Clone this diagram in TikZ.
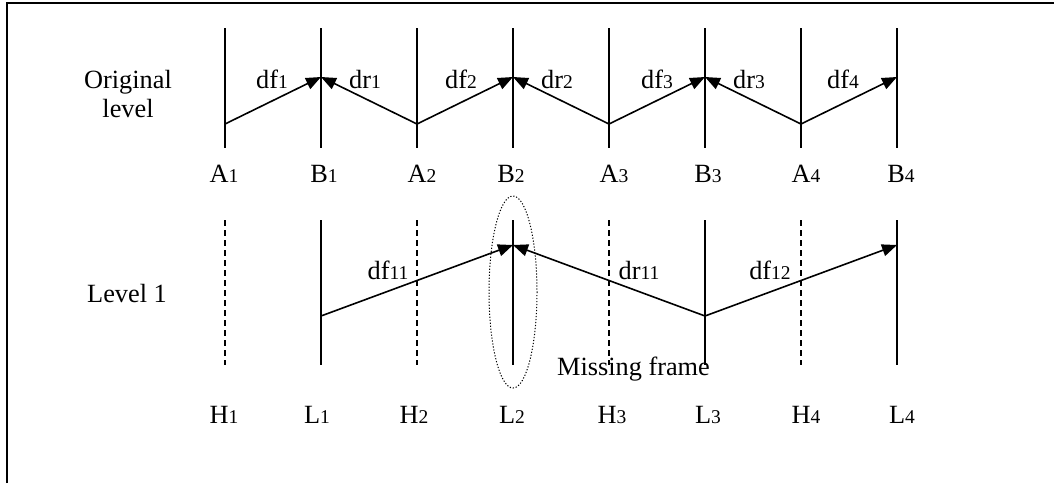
\documentclass[tikz,border=0pt]{standalone}
\usepackage{fontspec}
\setmainfont{Liberation Serif}
\usetikzlibrary{arrows.meta}
\tikzset{
  vline/.style={line width=1.6pt},
  hline/.style={line width=1.6pt, dash pattern=on 6pt off 4pt},
  arr/.style={line width=1.6pt, -{Triangle[length=15pt,width=12pt]}},
  lab/.style={font=\fontsize{26.3}{30}\selectfont, inner sep=0pt, anchor=base},
  frameline/.style={line width=2pt},
  missing/.style={line width=1pt, dash pattern=on 1.2pt off 1.8pt},
}
\newcommand{\dg}[1]{{\fontsize{19.5}{22}\selectfont #1}}
\begin{document}
\begin{tikzpicture}[x=1pt,y=-1pt]
\useasboundingbox (0,0) rectangle (1054,483);
% frame
\coordinate (fbl) at (7,483);
\coordinate (ftl) at (7,3);
\coordinate (ftr) at (1054,3);
\draw[frameline] (fbl) -- (ftl) -- (ftr);

% left labels
\node[lab] (orig1) at (128,88) {Original};
\node[lab] (orig2) at (128,117) {level};
\node[lab] (lev1) at (127,302) {Level 1};

% original level lines
\foreach \n/\x in {A1/225,B1/321,A2/417,B2/513,A3/609,B3/705,A4/801,B4/897} {
  \coordinate (\n top) at (\x,28);
  \coordinate (\n bot) at (\x,148);
  \draw[vline] (\n top) -- (\n bot);
}
\foreach \n/\x in {A1/225,A2/417,A3/609,A4/801} {
  \coordinate (\n v) at (\x,124);
}
\foreach \n/\x in {B1/321,B2/513,B3/705,B4/897} {
  \coordinate (\n t) at (\x,77);
}
\draw[arr] (A1v) -- (B1t);
\draw[arr] (A2v) -- (B1t);
\draw[arr] (A2v) -- (B2t);
\draw[arr] (A3v) -- (B2t);
\draw[arr] (A3v) -- (B3t);
\draw[arr] (A4v) -- (B3t);
\draw[arr] (A4v) -- (B4t);

\node[lab] (df1) at (272,88) {df\dg{1}};
\node[lab] (dr1) at (365,88) {dr\dg{1}};
\node[lab] (df2) at (461,88) {df\dg{2}};
\node[lab] (dr2) at (557,88) {dr\dg{2}};
\node[lab] (df3) at (657,88) {df\dg{3}};
\node[lab] (dr3) at (749,88) {dr\dg{3}};
\node[lab] (df4) at (843,88) {df\dg{4}};

% A/B labels
\node[lab] (lA1) at (224,182) {A\dg{1}};
\node[lab] (lB1) at (324,182) {B\dg{1}};
\node[lab] (lA2) at (422,182) {A\dg{2}};
\node[lab] (lB2) at (511,182) {B\dg{2}};
\node[lab] (lA3) at (614,182) {A\dg{3}};
\node[lab] (lB3) at (708,182) {B\dg{3}};
\node[lab] (lA4) at (806,182) {A\dg{4}};
\node[lab] (lB4) at (901,182) {B\dg{4}};

% level 1 lines
\foreach \n/\x in {L1/321,L2/513,L3/705,L4/897} {
  \coordinate (\n top) at (\x,220);
  \coordinate (\n bot) at (\x,365);
  \draw[vline] (\n top) -- (\n bot);
}
\foreach \n/\x in {H1/225,H2/417,H3/609,H4/801} {
  \coordinate (\n top) at (\x,220);
  \coordinate (\n bot) at (\x,365);
  \draw[hline] (\n top) -- (\n bot);
}
\coordinate (L1v) at (321,316);
\coordinate (L3v) at (705,316);
\coordinate (L2t) at (513,245);
\coordinate (L4t) at (897,245);
\draw[arr] (L1v) -- (L2t);
\draw[arr] (L3v) -- (L2t);
\draw[arr] (L3v) -- (L4t);

\node[lab] (df11) at (388,279) {df\dg{11}};
\node[lab] (dr11) at (639,279) {dr\dg{11}};
\node[lab] (df12) at (770,279) {df\dg{12}};

% missing frame
\coordinate (ellc) at (513,292);
\draw[missing] (ellc) ellipse [x radius=24, y radius=96];
\node[lab, anchor=base west] (miss) at (557,375) {Missing frame};

% H/L labels
\node[lab] (lH1) at (224,423) {H\dg{1}};
\node[lab] (lL1) at (317,423) {L\dg{1}};
\node[lab] (lH2) at (414,423) {H\dg{2}};
\node[lab] (lL2) at (512,423) {L\dg{2}};
\node[lab] (lH3) at (612,423) {H\dg{3}};
\node[lab] (lL3) at (708,423) {L\dg{3}};
\node[lab] (lH4) at (806,423) {H\dg{4}};
\node[lab] (lL4) at (902,423) {L\dg{4}};
\end{tikzpicture}
\end{document}
